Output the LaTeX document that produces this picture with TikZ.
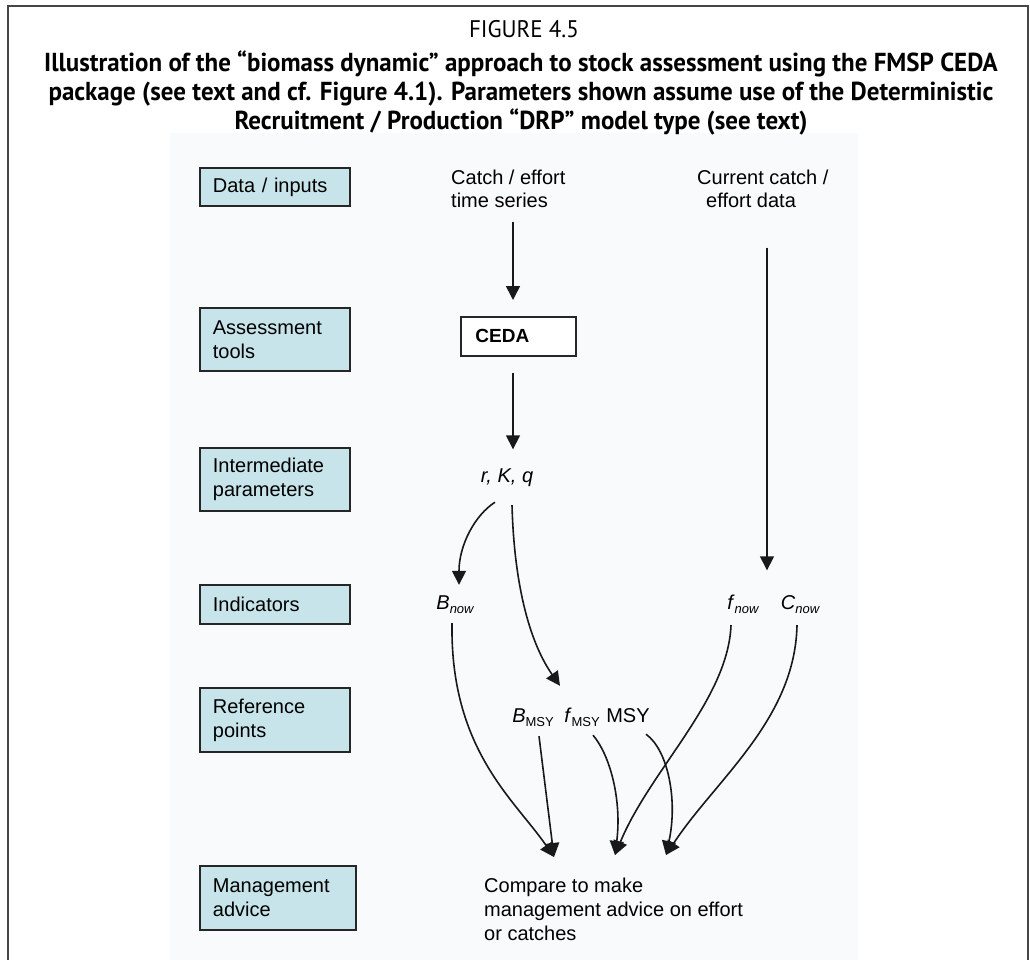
\documentclass[tikz,border=0pt]{standalone}
\usepackage{fontspec}
\setmainfont{Liberation Sans}
\newfontfamily\titlefont[FakeStretch=0.96]{PT Sans}
\usetikzlibrary{arrows.meta}
\definecolor{boxfill}{RGB}{198,228,234}
\definecolor{bgtint}{RGB}{248,250,252}
\definecolor{framecol}{RGB}{70,70,70}
\begin{document}
\begin{tikzpicture}[x=1pt,y=-1pt,
  lbl/.style={draw=black!85, line width=1.8pt, fill=boxfill, anchor=north west,
    minimum width=150pt, text width=124pt, inner xsep=13pt, inner ysep=0pt, align=left,
    font=\fontsize{20}{24}\selectfont},
  txt/.style={inner sep=0pt, font=\fontsize{20}{23}\selectfont},
  sym/.style={inner sep=0pt, anchor=base, text height=14.5pt, text depth=8pt, font=\fontsize{20}{23}\selectfont},
  ttl/.style={inner sep=0pt, font=\titlefont\fontsize{24}{28}\selectfont},
  ttlb/.style={inner sep=0pt, font=\titlefont\bfseries\fontsize{26}{29}\selectfont},
  arr/.style={-{Triangle[length=14pt,width=14pt]}, line width=1.6pt, draw=black!90}]
\useasboundingbox (0,0) rectangle (1030,960);
% frame and background
\fill[bgtint] (170,133) rectangle (858,960);
\draw[framecol, line width=1.6pt] (8,960) -- (8,6) -- (1028,6) -- (1028,960);
% title
\node[ttl] (fig) at (524,29) {FIGURE 4.5};
\node[ttlb] (t1) at (521,64) {Illustration of the “biomass dynamic” approach to stock assessment using the FMSP CEDA};
\node[ttlb] (t2) at (521,94) {package (see text and cf. Figure 4.1). Parameters shown assume use of the Deterministic};
\node[ttlb] (t3) at (521,122) {Recruitment / Production “DRP” model type (see text)};
% left category boxes
\node[lbl, minimum height=38pt] (data) at (199,167) {Data / inputs};
\node[lbl, minimum height=63pt] (assess) at (199,307) {Assessment\\tools};
\node[lbl, minimum height=63pt] (inter) at (199,447) {Intermediate\\parameters};
\node[lbl, minimum height=39pt] (indic) at (199,584) {Indicators};
\node[lbl, minimum height=64pt] (refp) at (199,687) {Reference\\points};
\node[lbl, minimum height=64pt, minimum width=156pt, text width=130pt] (mgmt) at (199,865) {Management\\advice};
% flow nodes
\node[txt, anchor=west, align=left] (cet) at (451,188.5) {Catch / effort\\time series};
\node[txt, anchor=west, align=left] (cur) at (697,188.5) {Current catch /\\\hspace*{9pt}effort data};
\node[draw=black!85, line width=1.8pt, fill=white, anchor=north west, minimum width=115pt,
  minimum height=39pt, text width=86pt, inner xsep=14pt, inner ysep=0pt, align=left,
  font=\bfseries\fontsize{19}{23}\selectfont] (ceda) at (460,316) {CEDA};
\node[sym, text depth=4pt] (rkq) at (507,482) {\itshape r, K, q};
\node[sym] (bnow) at (455,609) {\textit{B}\raisebox{-4pt}{\fontsize{13}{13}\selectfont\itshape now}};
\node[sym] (fnow) at (743,609) {\textit{f}\raisebox{-4pt}{\fontsize{13}{13}\selectfont\itshape now}};
\node[sym] (cnow) at (800,609) {\textit{C}\raisebox{-4pt}{\fontsize{13}{13}\selectfont\itshape now}};
\node[sym] (bmsy) at (533,722) {\textit{B}\raisebox{-4pt}{\fontsize{13}{13}\selectfont MSY}};
\node[sym] (fmsy) at (582,722) {\textit{f}\raisebox{-4pt}{\fontsize{13}{13}\selectfont MSY}};
\node[sym] (msy) at (628,722) {MSY};
\node[txt, anchor=west, align=left, font=\fontsize{20}{24}\selectfont] (cmp) at (484,909) {Compare to make\\management advice on effort\\or catches};
\coordinate (colx) at (513,0);
\coordinate (rcol) at (767,0);
\coordinate (tA) at (554,857);
\coordinate (tB) at (615,855);
\coordinate (tC) at (666,855);
% connectors
\draw[arr, shorten <=14pt, shorten >=16pt] (colx |- cet.south) -- (colx |- ceda.north);
\draw[arr, shorten <=16pt, shorten >=18pt] (colx |- ceda.south) -- (colx |- rkq.north);
\draw[arr, shorten <=40pt, shorten >=24pt] (rcol |- cur.south) -- (rcol |- cnow.north);
\draw[arr] ([xshift=-12pt,yshift=-16pt]rkq.south) .. controls (475,515) and (459,545) .. ([xshift=4pt,yshift=9.5pt]bnow.north);
\draw[arr] ([xshift=5pt,yshift=-19pt]rkq.south) .. controls (514,580) and (528,640) .. ([xshift=27pt,yshift=21.5pt]bmsy.north);
\draw[arr] ([xshift=-3pt,yshift=-6pt]bnow.south) .. controls (450,750) and (515,800) .. (tA);
\draw[arr] ([xshift=6pt,yshift=-6pt]bmsy.south) -- (tA);
\draw[arr] ([xshift=11pt,yshift=-5pt]fmsy.south) .. controls (610,755) and (622,800) .. (tB);
\draw[arr] ([xshift=18pt,yshift=-4pt]msy.south) .. controls (668,750) and (678,800) .. (tC);
\draw[arr] ([xshift=-12pt,yshift=-8pt]fnow.south) .. controls (728,700) and (650,770) .. (tB);
\draw[arr] ([xshift=-3pt,yshift=-8pt]cnow.south) .. controls (795,720) and (715,780) .. (tC);
\end{tikzpicture}
\end{document}
